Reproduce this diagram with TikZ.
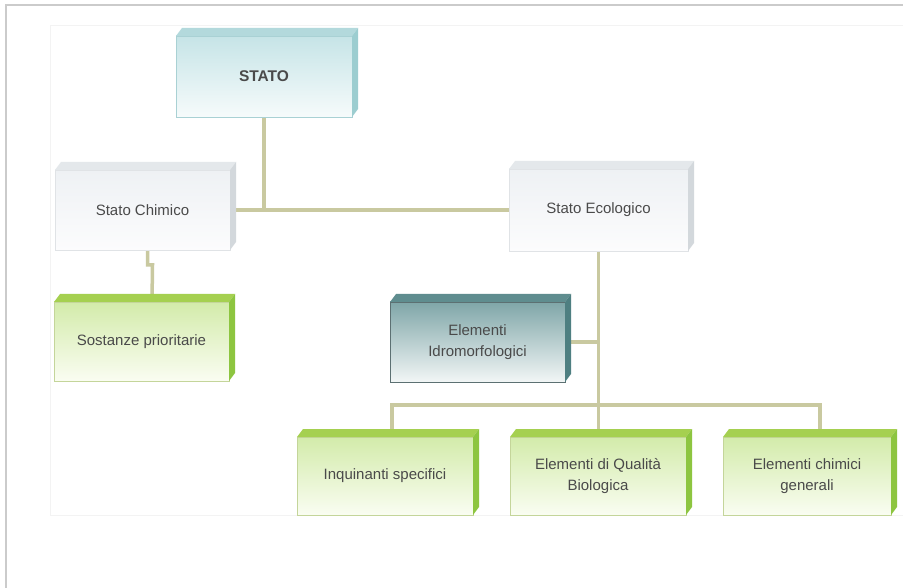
\documentclass[tikz,border=0pt]{standalone}
\usepackage{fontspec}
\setmainfont{Liberation Sans}
\usetikzlibrary{calc,backgrounds}
\definecolor{conn}{HTML}{C9C9A0}
\definecolor{txt}{HTML}{4A4A4A}
\definecolor{frameg}{HTML}{CBCBCB}
\definecolor{panel}{HTML}{F3F3F3}
% cyan (STATO)
\definecolor{cyT}{HTML}{C6E4E7}\definecolor{cyB}{HTML}{F6FBFB}
\definecolor{cyTop}{HTML}{B3D9DC}\definecolor{cySide}{HTML}{9CCDD0}\definecolor{cyLine}{HTML}{A9D1D4}
% gray-white
\definecolor{gwT}{HTML}{EEF1F4}\definecolor{gwB}{HTML}{FCFCFD}
\definecolor{gwTop}{HTML}{E4E8EB}\definecolor{gwSide}{HTML}{D3D8DC}\definecolor{gwLine}{HTML}{E0E3E6}
% green
\definecolor{grT}{HTML}{D3EBAA}\definecolor{grB}{HTML}{FAFDF2}
\definecolor{grTop}{HTML}{A5D050}\definecolor{grSide}{HTML}{8DC540}\definecolor{grLine}{HTML}{C4D59A}
% teal
\definecolor{tlT}{HTML}{7FA6A8}\definecolor{tlB}{HTML}{F2F6F6}
\definecolor{tlTop}{HTML}{5F8D8F}\definecolor{tlSide}{HTML}{4E7F81}\definecolor{tlLine}{HTML}{5C7072}
\tikzset{
  box/.style={rectangle, inner sep=0pt, outer sep=0pt, line width=0.8pt, align=center,
    text=txt, font=\fontsize{15}{21}\selectfont},
  cybox/.style={box, draw=cyLine, top color=cyT, bottom color=cyB},
  gwbox/.style={box, draw=gwLine, top color=gwT, bottom color=gwB},
  grbox/.style={box, draw=grLine, top color=grT, bottom color=grB},
  tlbox/.style={box, draw=tlLine, top color=tlT, bottom color=tlB},
  link/.style={draw=conn, line width=3.5pt},
}
\newcommand\faces[3]{%
  \fill[#2] (#1.north west) -- ++(6,-8) -- ($(#1.north east)+(6,-8)$) -- (#1.north east) -- cycle;
  \fill[#3] (#1.north east) -- ++(6,-8) -- ($(#1.south east)+(6,-8)$) -- (#1.south east) -- cycle;
}
\begin{document}
\begin{tikzpicture}[x=1pt,y=-1pt]
\useasboundingbox (0,0) rectangle (903,588);
\begin{scope}[on background layer]
\fill[white] (0,0) rectangle (903,588);
\draw[panel, line width=0.8pt] (50,25) rectangle (903,515);
\draw[frameg, line width=2pt] (6,588) -- (6,5) -- (903,5);
\end{scope}

\node[cybox, minimum width=176pt, minimum height=81pt, font=\fontsize{15.5}{20}\selectfont\bfseries] (stato) at (264,76.5) {STATO};
\node[gwbox, minimum width=175pt, minimum height=80pt] (chim) at (142.5,210) {Stato Chimico};
\node[gwbox, minimum width=179pt, minimum height=82pt] (ecol) at (598.5,210) {Stato Ecologico};
\node[grbox, minimum width=175pt, minimum height=79pt] (sost) at (141.5,341.5) {Sostanze prioritarie};
\node[tlbox, minimum width=175pt, minimum height=80pt] (idro) at (477.5,342) {Elementi\\Idromorfologici};
\node[grbox, minimum width=176pt, minimum height=78pt] (inq) at (385,476) {Inquinanti specifici};
\node[grbox, minimum width=176pt, minimum height=78pt] (qual) at (598,476) {Elementi di Qualità\\Biologica};
\node[grbox, minimum width=168pt, minimum height=78pt] (chimg) at (807,476) {Elementi chimici\\generali};

\faces{stato}{cyTop}{cySide}
\faces{chim}{gwTop}{gwSide}
\faces{ecol}{gwTop}{gwSide}
\faces{sost}{grTop}{grSide}
\faces{idro}{tlTop}{tlSide}
\faces{inq}{grTop}{grSide}
\faces{qual}{grTop}{grSide}
\faces{chimg}{grTop}{grSide}

\coordinate (busL) at (392,405);
\coordinate (busR) at (820,405);
\begin{scope}[on background layer]
\draw[link] (chim.east) -- (ecol.west);
\draw[link] (stato.south) -- (stato.south |- chim.east);
\draw[link] ([xshift=5pt]chim.south) -- ++(0,15) -- ++(5,0) -- ([xshift=10.5pt]sost.north);
\draw[link] (ecol.south) -- (ecol.south |- qual.north);
\draw[link] (idro.east) -- (ecol.south |- idro.east);
\draw[link] (busL |- inq.north) -- (busL) -- (busR) -- (busR |- chimg.north);
\end{scope}
\end{tikzpicture}
\end{document}
